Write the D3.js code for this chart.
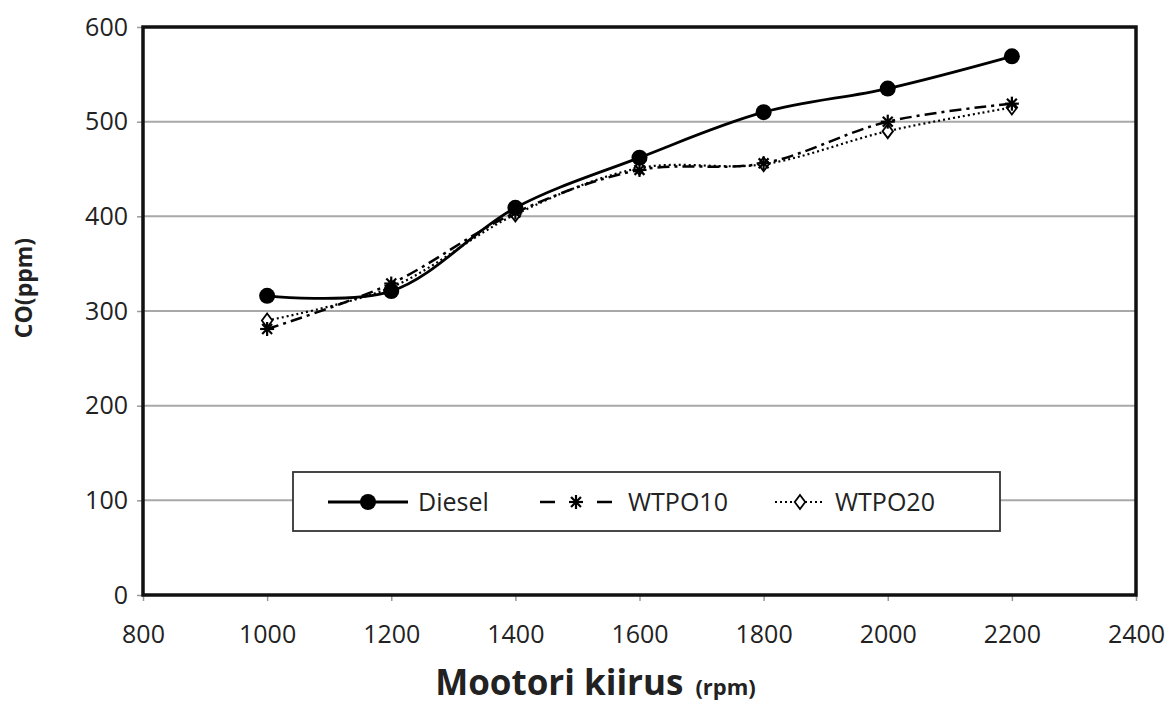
<!DOCTYPE html>
<html>
<head>
<meta charset="utf-8">
<script src="https://cdn.jsdelivr.net/npm/d3@7"></script>
<style>
  body { margin: 0; background: #fff; }
  svg text { font-family: "Open Sans", "Noto Sans", sans-serif; fill: #222; }
</style>
</head>
<body>
<div id="chart"></div>
<script>
// data
var rpm = [1000, 1200, 1400, 1600, 1800, 2000, 2200];
var diesel = [316, 321, 409, 462, 510, 535, 569];
var wtpo10 = [281, 329, 404, 449, 456, 500, 519];
var wtpo20 = [290, 325, 402, 451, 455, 490, 515];
var x_ticks = [800, 1000, 1200, 1400, 1600, 1800, 2000, 2200, 2400];
var y_ticks = [0, 100, 200, 300, 400, 500, 600];
var series_names = ['Diesel', 'WTPO10', 'WTPO20'];

var margin = { top: 27, right: 37, bottom: 109, left: 143 },
    width = 1173 - margin.left - margin.right,
    height = 704 - margin.top - margin.bottom;

var svg = d3.select('#chart').append('svg')
    .attr('width', 1173)
    .attr('height', 704)
  .append('g')
    .attr('transform', 'translate(' + margin.left + ',' + margin.top + ')');

var x = d3.scaleLinear().domain([800, 2400]).range([0, width]);
var y = d3.scaleLinear().domain([0, 600]).range([height, 0]);

// gridlines
svg.selectAll('.grid')
    .data(y_ticks.filter(d => d > 0 && d < 600))
    .enter()
    .append('line')
        .attr('x1', 0).attr('x2', width)
        .attr('y1', d => y(d)).attr('y2', d => y(d))
        .attr('stroke', '#a8a8a8')
        .attr('stroke-width', 2);

// axes
var yaxis = svg.append('g')
    .call(d3.axisLeft(y).tickValues(y_ticks).tickFormat(d3.format('d')).tickSize(6).tickPadding(9));
var xaxis = svg.append('g')
    .attr('transform', `translate(0,${height})`)
    .call(d3.axisBottom(x).tickValues(x_ticks).tickFormat(d3.format('d')).tickSize(6).tickPadding(24));
[yaxis, xaxis].forEach(function (a) {
    a.select('.domain').remove();
    a.selectAll('line').attr('stroke', '#999').attr('stroke-width', 1.5);
    a.selectAll('text').style('font-size', '25px').attr('fill', '#222');
});

// frame
svg.append('rect')
    .attr('x', 0).attr('y', 0)
    .attr('width', width).attr('height', height)
    .attr('fill', 'none')
    .attr('stroke', '#111')
    .attr('stroke-width', 3.5);

var line = d3.line()
    .x((d, i) => x(rpm[i]))
    .y(d => y(d))
    .curve(d3.curveCatmullRom.alpha(0.5));

var styles = [
    { data: diesel, dash: null, width: 2.8 },
    { data: wtpo10, dash: '12,5,3,5', width: 2.5 },
    { data: wtpo20, dash: '2,3', width: 2.2 }
];

styles.slice().reverse().forEach(function (s) {
    svg.append('path')
        .attr('d', line(s.data))
        .attr('fill', 'none')
        .attr('stroke', '#000')
        .attr('stroke-width', s.width)
        .attr('stroke-dasharray', s.dash);
});

function star(g, cx, cy, r) {
    [0, 45, 90, 135].forEach(function (a) {
        var rad = a * Math.PI / 180;
        g.append('line')
            .attr('x1', cx - r * Math.cos(rad)).attr('y1', cy - r * Math.sin(rad))
            .attr('x2', cx + r * Math.cos(rad)).attr('y2', cy + r * Math.sin(rad))
            .attr('stroke', '#000').attr('stroke-width', 2.2);
    });
}
function diamond(g, cx, cy, r) {
    g.append('path')
        .attr('d', `M${cx},${cy - r}L${cx + r * 0.75},${cy}L${cx},${cy + r}L${cx - r * 0.75},${cy}Z`)
        .attr('fill', '#fff')
        .attr('stroke', '#000')
        .attr('stroke-width', 1.8);
}

// markers
var mk = svg.append('g');
wtpo20.forEach((d, i) => diamond(mk, x(rpm[i]), y(d), 7));
wtpo10.forEach((d, i) => star(mk, x(rpm[i]), y(d), 7));
mk.selectAll('.dot')
    .data(diesel)
    .enter()
    .append('circle')
        .attr('cx', (d, i) => x(rpm[i]))
        .attr('cy', d => y(d))
        .attr('r', 8)
        .attr('fill', '#000');

// legend
var lg = svg.append('g').attr('transform', `translate(${293 - margin.left},${472 - margin.top})`);
lg.append('rect')
    .attr('width', 707).attr('height', 59)
    .attr('fill', '#fff')
    .attr('stroke', '#333')
    .attr('stroke-width', 1.8);
var leg_x = [[35, 115], [247, 319], [482, 532]];
var text_x = [125, 335, 542];
series_names.forEach(function (name, i) {
    var s = styles[i];
    lg.append('line')
        .attr('x1', leg_x[i][0]).attr('x2', leg_x[i][1])
        .attr('y1', 30).attr('y2', 30)
        .attr('stroke', '#000')
        .attr('stroke-width', s.width)
        .attr('stroke-dasharray', i == 1 ? '15,42' : s.dash);
    var mx = (leg_x[i][0] + leg_x[i][1]) / 2;
    if (i == 0) lg.append('circle').attr('cx', mx).attr('cy', 30).attr('r', 8).attr('fill', '#000');
    if (i == 1) star(lg, mx, 30, 7);
    if (i == 2) diamond(lg, mx, 30, 7);
    lg.append('text')
        .attr('x', text_x[i]).attr('y', 30)
        .attr('dy', '0.35em')
        .style('font-size', '25px')
        .text(name);
});

// axis titles
var xt = svg.append('text')
    .attr('x', width / 2 - 44)
    .attr('y', height + 100)
    .attr('text-anchor', 'middle')
    .style('font-weight', 'bold');
xt.append('tspan').style('font-size', '35px').text('Mootori kiirus');
xt.append('tspan').attr('dx', 12).style('font-size', '22px').text('(rpm)');

svg.append('text')
    .attr('transform', `translate(${24 - margin.left},${288 - margin.top}) rotate(-90)`)
    .attr('text-anchor', 'middle')
    .attr('dy', '0.35em')
    .style('font-size', '23px')
    .style('font-weight', 'bold')
    .text('CO(ppm)');
</script>
</body>
</html>
